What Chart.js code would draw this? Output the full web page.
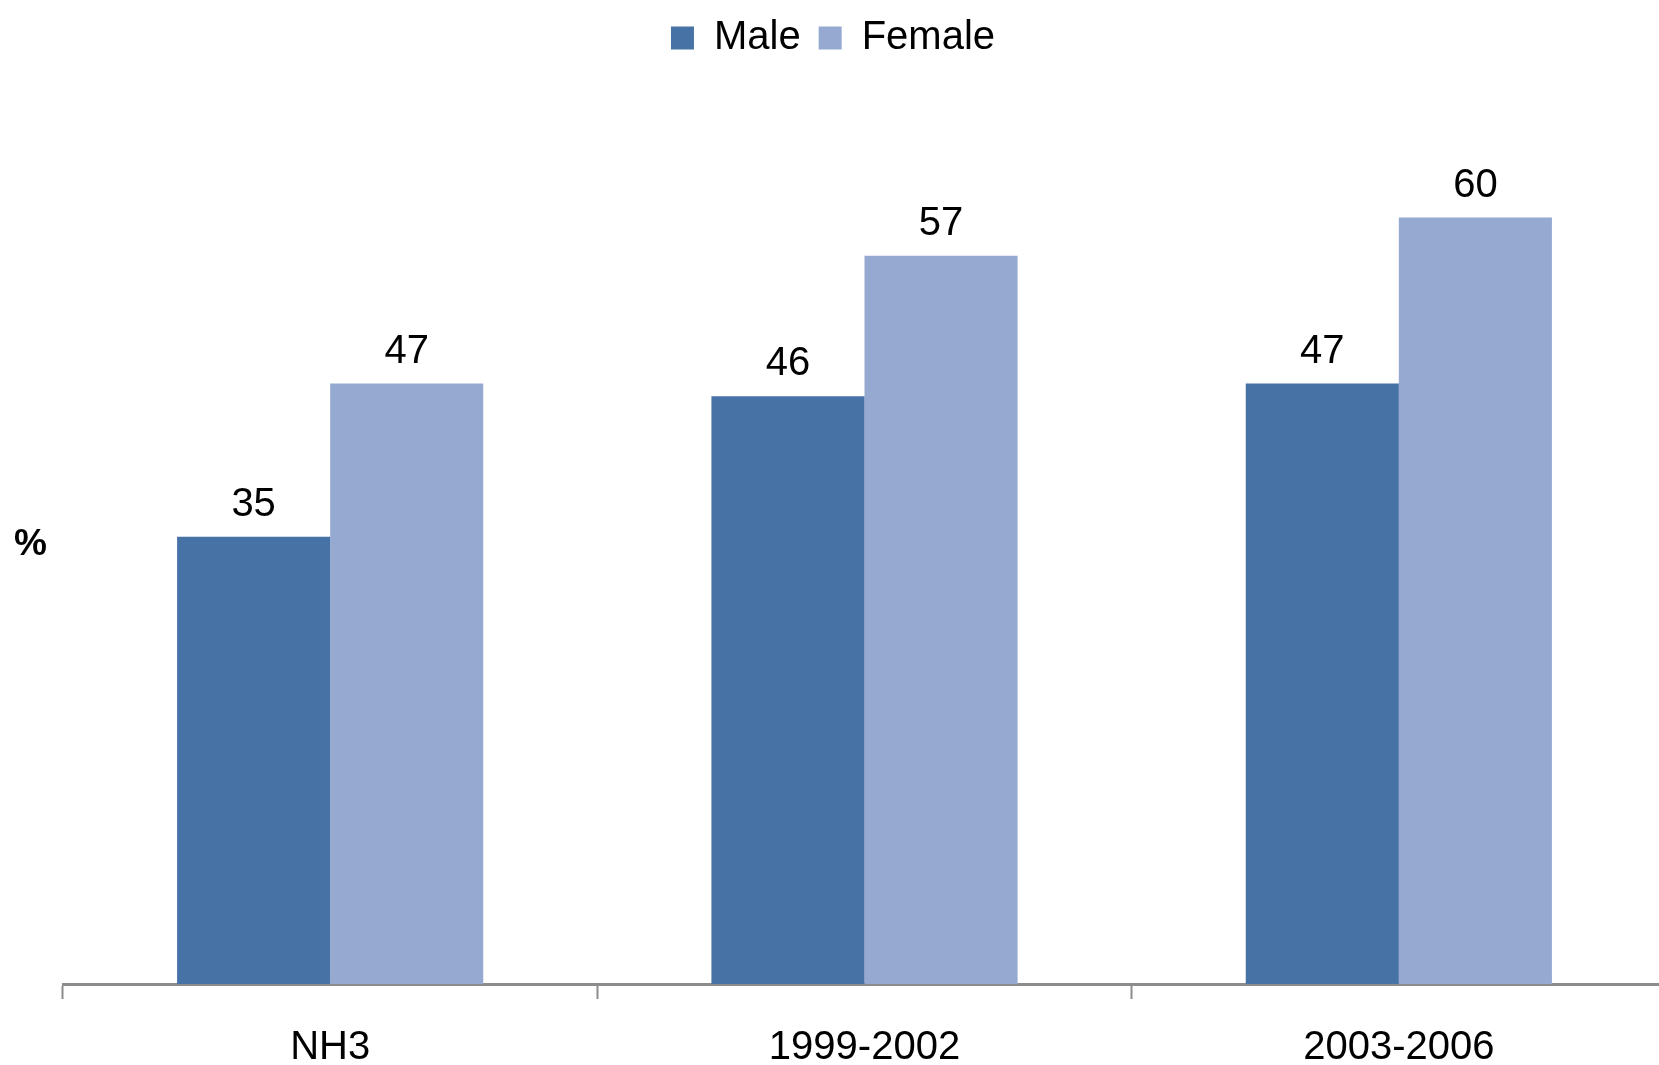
<!DOCTYPE html>
<html lang="en">
<head>
  <meta charset="UTF-8">
  <title>Male vs Female</title>
  <script src="https://cdn.jsdelivr.net/npm/chart.js"></script>
  <style>
    html, body {
      margin: 0;
      padding: 0;
      background: #ffffff;
      overflow: hidden;
    }
    .wrap {
      position: relative;
      width: 1670px;
      height: 1065px;
    }
    .y-title {
      position: absolute;
      left: 14px;
      top: 522px;
      font-family: "Liberation Sans", Arial, sans-serif;
      font-size: 37px;
      font-weight: bold;
      color: #000;
    }
  </style>
</head>
<body>
  <div class="wrap">
    <canvas id="barChart" width="1670" height="1065"></canvas>
    <div class="y-title">%</div>
  </div>

  <script>
    const categories = ['NH3', '1999-2002', '2003-2006'];
    const maleValues = [35, 46, 47];
    const femaleValues = [47, 57, 60];

    const FONT = '"Liberation Sans", Arial, sans-serif';

    // draws the value above each bar
    const valueLabels = {
      id: 'valueLabels',
      afterDatasetsDraw(chart) {
        const ctx = chart.ctx;
        ctx.save();
        ctx.font = '40px ' + FONT;
        ctx.fillStyle = '#000';
        ctx.textAlign = 'center';
        ctx.textBaseline = 'middle';
        chart.data.datasets.forEach((ds, i) => {
          chart.getDatasetMeta(i).data.forEach((bar, j) => {
            ctx.fillText(ds.data[j], bar.x, bar.y - 32);
          });
        });
        ctx.restore();
      }
    };

    new Chart(document.getElementById('barChart'), {
      type: 'bar',
      data: {
        labels: categories,
        datasets: [
          {
            label: 'Male',
            data: maleValues,
            backgroundColor: '#4672A6',
            categoryPercentage: 0.573,
            barPercentage: 1.0
          },
          {
            label: 'Female',
            data: femaleValues,
            backgroundColor: '#95A9D1',
            categoryPercentage: 0.573,
            barPercentage: 1.0
          }
        ]
      },
      options: {
        responsive: false,
        animation: false,
        layout: {
          padding: { left: 0, right: 4, top: 0, bottom: -32 }
        },
        plugins: {
          legend: {
            position: 'top',
            labels: {
              boxWidth: 23,
              boxHeight: 23,
              padding: 18,
              color: '#000',
              font: { family: FONT, size: 40 }
            }
          },
          tooltip: { enabled: false }
        },
        scales: {
          x: {
            grid: {
              drawOnChartArea: false,
              tickLength: 15,
              tickWidth: 2,
              tickColor: '#8c8c8c'
            },
            border: { color: '#8c8c8c', width: 3 },
            ticks: {
              color: '#000',
              padding: 29,
              font: { family: FONT, size: 40, lineHeight: 1 }
            }
          },
          y: {
            min: 0,
            max: 71.7,
            ticks: { display: false },
            grid: { display: false },
            border: { display: false },
            afterFit(scale) {
              scale.width = 63;
            }
          }
        }
      },
      plugins: [valueLabels]
    });
  </script>
</body>
</html>
